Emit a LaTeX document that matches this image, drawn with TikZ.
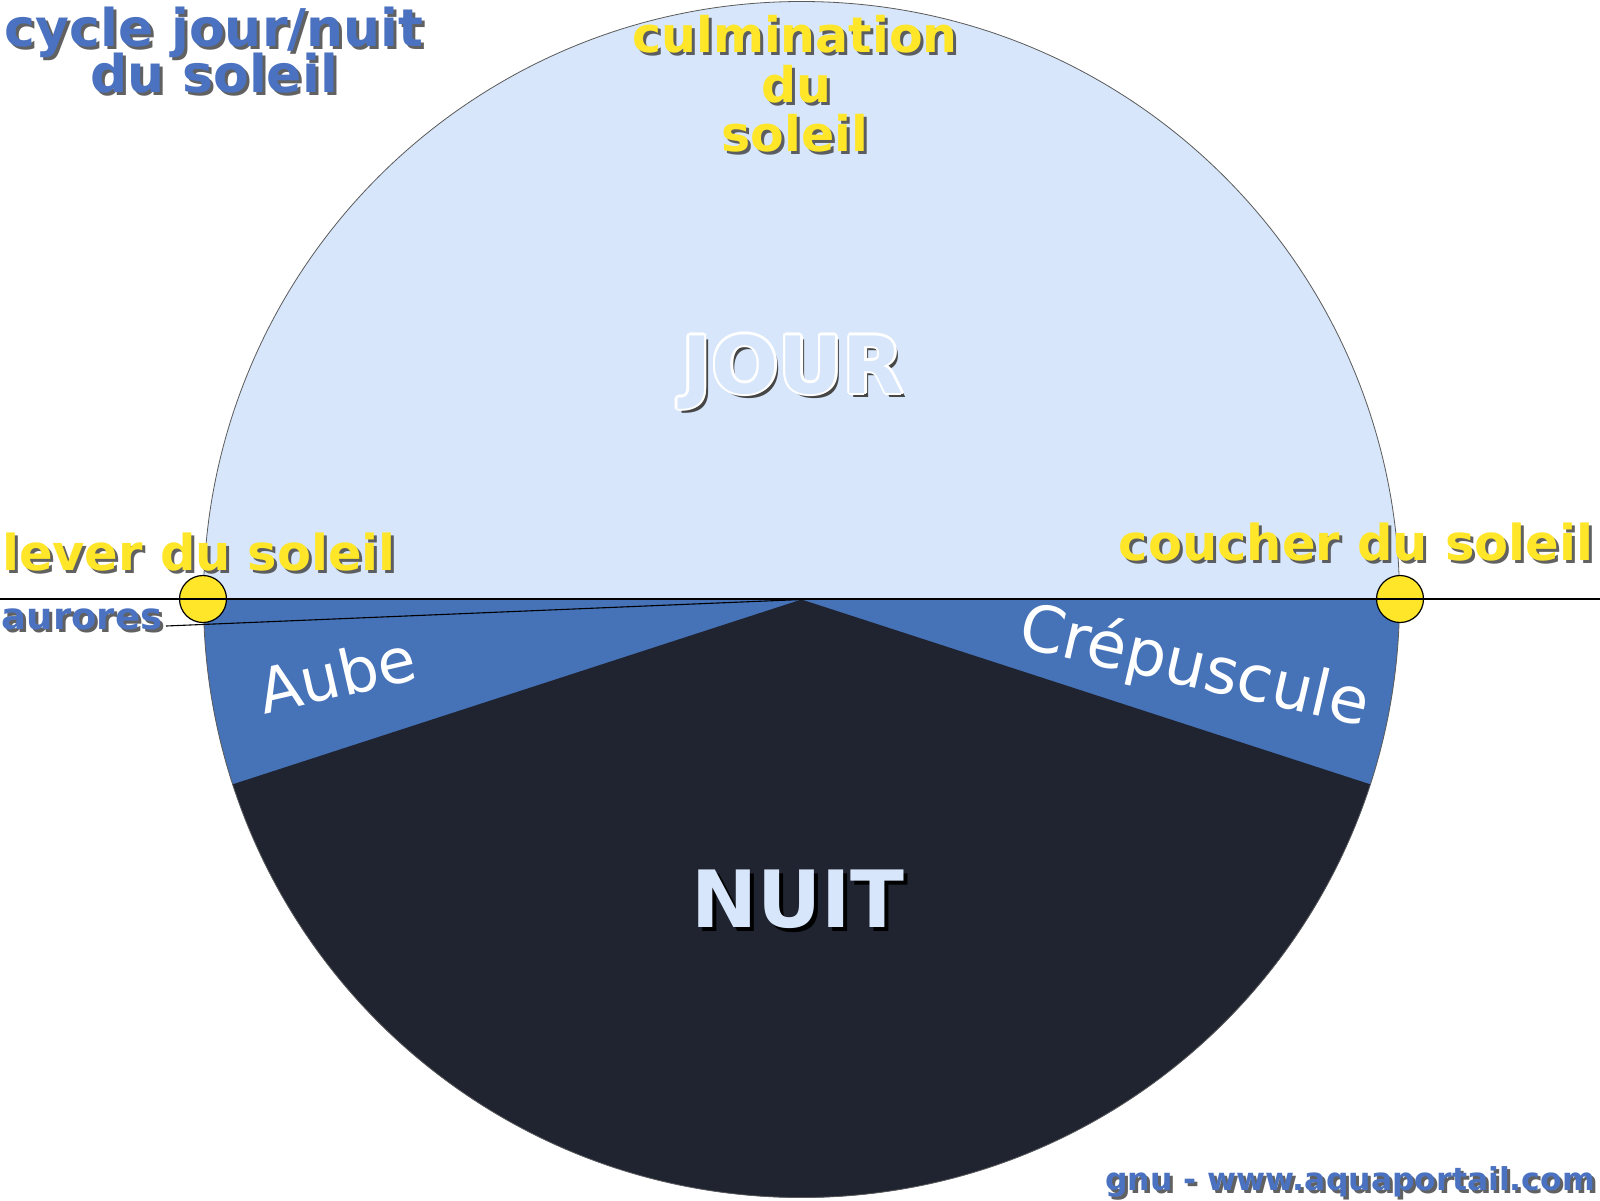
\documentclass[tikz,border=0pt]{standalone}
\usepackage{fontspec}
\setmainfont{DejaVu Sans}
\usetikzlibrary{calc}
\definecolor{dayblue}{RGB}{215,230,250}
\definecolor{midblue}{RGB}{70,114,184}
\definecolor{nightdark}{RGB}{31,36,48}
\definecolor{sunyellow}{RGB}{255,230,40}
\definecolor{titleblue}{RGB}{74,114,192}
\definecolor{shadowgray}{RGB}{70,70,70}
\definecolor{rimgray}{RGB}{90,90,90}
\newcommand\shadowlabel[6]{%
  \node[lbl, font=\bfseries\fontsize{#4}{#4}\selectfont, text=shadowgray, opacity=0.85] (#1-sh) at (#2+3,#3+3) {#6};
  \node[lbl, font=\bfseries\fontsize{#4}{#4}\selectfont, text=#5] (#1) at (#2,#3) {#6};}
\begin{document}
\begin{tikzpicture}[x=1pt,y=-1pt,
  lbl/.style={anchor=base, inner sep=0pt, outer sep=0pt},
  sun/.style={circle, draw=black, line width=1.2pt, fill=sunyellow, minimum size=47pt, inner sep=0pt},
  horizon/.style={draw=black, line width=1.4pt},
  thinline/.style={draw=black, line width=1.1pt},
  wedgelbl/.style={inner sep=0pt, text=white}]
\useasboundingbox (0,0) rectangle (1600,1200);
\fill[white] (0,0) rectangle (1600,1200);
\coordinate (C) at (801.5,599.5);
% day disc
\fill[dayblue] (C) circle[radius=598];
% twilight (lower half)
\fill[midblue] ($(C)+(0:598)$) arc[start angle=0, end angle=180, radius=598] -- cycle;
% night sector
\fill[nightdark] (C) -- ($(C)+(18:598)$) arc[start angle=18, end angle=162, radius=598] -- cycle;
\draw[rimgray, line width=0.8pt] (C) circle[radius=598];
% suns
\node[sun] (sunL) at (203,599) {};
\node[sun] (sunR) at (1400,599) {};
% horizon
\coordinate (hl) at (0,599);
\coordinate (hr) at (1600,599);
\draw[horizon] (hl) -- (hr);
% aurores line
\coordinate (aurend) at (166,626);
\draw[thinline] (C) -- (aurend);
% labels
\shadowlabel{t1}{214}{46}{52}{titleblue}{cycle jour/nuit}
\shadowlabel{t2}{214}{92}{52}{titleblue}{du soleil}
\shadowlabel{c1}{795}{52}{49}{sunyellow}{culmination}
\shadowlabel{c2}{796}{102}{49}{sunyellow}{du}
\shadowlabel{c3}{795}{151}{49}{sunyellow}{soleil}
\shadowlabel{lev}{199}{570}{49.5}{sunyellow}{lever du soleil}
\shadowlabel{cou}{1356}{560}{49.5}{sunyellow}{coucher du soleil}
\shadowlabel{aur}{82}{629}{37}{titleblue}{aurores}
\shadowlabel{gnu}{1350}{1190}{31.5}{titleblue}{gnu - www.aquaportail.com}
% JOUR
\node[lbl, font=\bfseries\fontsize{79}{79}\selectfont, text=shadowgray] (jour-sh) at (797,397) {JOUR};
\foreach \dx/\dy [count=\k] in {2.5/0,-2.5/0,0/2.5,0/-2.5,1.8/1.8,-1.8/1.8,1.8/-1.8,-1.8/-1.8}
  \node[lbl, font=\bfseries\fontsize{79}{79}\selectfont, text=white] (jour-o\k) at (793+\dx,393+\dy) {JOUR};
\node[lbl, font=\bfseries\fontsize{79}{79}\selectfont, text=dayblue] (jour) at (793,393) {JOUR};
% NUIT
\node[lbl, font=\bfseries\fontsize{79}{79}\selectfont, text=black] (nuit-sh) at (802,931) {NUIT};
\node[lbl, font=\bfseries\fontsize{79}{79}\selectfont, text=dayblue] (nuit) at (798,927) {NUIT};
% wedge labels
\node[wedgelbl, rotate=13, font=\fontsize{62}{62}\selectfont] (aube) at (337,674) {Aube};
\node[wedgelbl, rotate=-13, font=\fontsize{64}{64}\selectfont] (crep) at (1194,668) {Crépuscule};
\end{tikzpicture}
\end{document}
